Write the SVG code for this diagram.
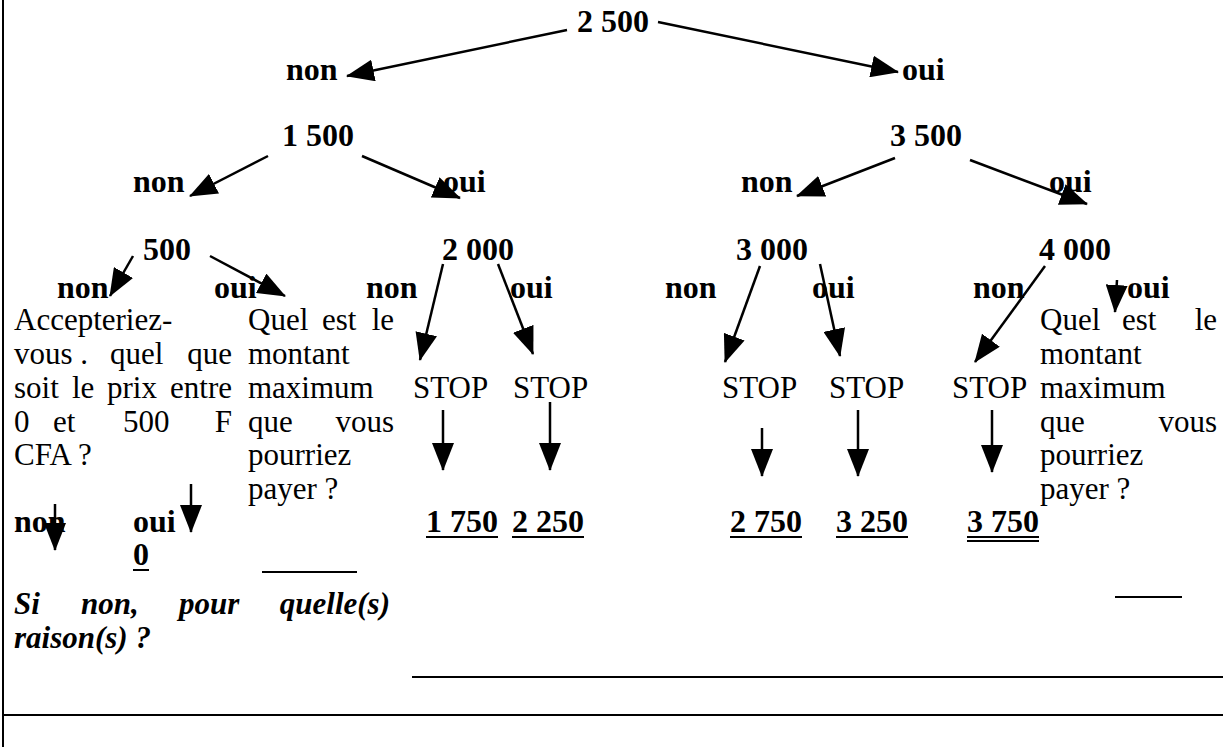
<svg xmlns="http://www.w3.org/2000/svg" width="1223" height="747" viewBox="0 0 1223 747">
<defs>
<marker id="ah" viewBox="0 0 28 22" refX="27" refY="11" markerWidth="28" markerHeight="22" markerUnits="userSpaceOnUse" orient="auto">
<path d="M0,0 L28,11 L0,22 z" fill="#000"/>
</marker>
</defs>
<style>
.b{font-family:"Liberation Serif","Times New Roman",serif;font-weight:bold;font-size:32px;fill:#000}
.r{font-family:"Liberation Serif","Times New Roman",serif;font-size:31px;fill:#000}
.bi{font-family:"Liberation Serif","Times New Roman",serif;font-weight:bold;font-style:italic;font-size:31px;fill:#000}
.e{text-anchor:end}
.a{stroke:#000;stroke-width:2.5;fill:none;marker-end:url(#ah)}
.ln{stroke:#000;stroke-width:2;fill:none}
</style>
<rect width="1223" height="747" fill="#fff"/>
<g id="frame">
<line class="ln" x1="3" y1="0" x2="3" y2="747"/>
<line class="ln" x1="3" y1="715" x2="1223" y2="715"/>
<line class="ln" x1="412" y1="677" x2="1223" y2="677"/>
<line class="ln" x1="262" y1="572" x2="357" y2="572"/>
<line class="ln" x1="1115" y1="597" x2="1182" y2="597"/>
</g>
<g id="connectors">
<line class="a" x1="567" y1="30" x2="347" y2="76"/>
<line class="a" x1="658" y1="22" x2="898" y2="72"/>
<line class="a" x1="268" y1="156" x2="190" y2="196"/>
<line class="a" x1="362" y1="156" x2="460" y2="198"/>
<line class="a" x1="895" y1="158" x2="797" y2="196"/>
<line class="a" x1="970" y1="160" x2="1087" y2="204"/>
<line class="a" x1="133" y1="256" x2="110" y2="296"/>
<line class="a" x1="210" y1="256" x2="285" y2="296"/>
<line class="a" x1="443" y1="264" x2="420" y2="360"/>
<line class="a" x1="498" y1="264" x2="533" y2="354"/>
<line class="a" x1="760" y1="266" x2="725" y2="362"/>
<line class="a" x1="820" y1="264" x2="840" y2="356"/>
<line class="a" x1="1045" y1="266" x2="975" y2="362"/>
<line class="a" x1="1117" y1="280" x2="1115" y2="312"/>
<line class="a" x1="443" y1="410" x2="443" y2="470"/>
<line class="a" x1="550" y1="402" x2="550" y2="470"/>
<line class="a" x1="762" y1="428" x2="762" y2="476"/>
<line class="a" x1="858" y1="410" x2="858" y2="476"/>
<line class="a" x1="992" y1="410" x2="992" y2="472"/>
<line class="a" x1="55" y1="504" x2="55" y2="550"/>
<line class="a" x1="191" y1="484" x2="191" y2="532"/>
</g>
<g id="n2500"><text class="b" x="577" y="32">2 500</text></g>
<g id="l-non1"><text class="b" x="286" y="80">non</text></g>
<g id="l-oui1"><text class="b" x="902" y="80">oui</text></g>
<g id="n1500"><text class="b" x="282" y="146">1 500</text></g>
<g id="n3500"><text class="b" x="890" y="146">3 500</text></g>
<g id="l-non2a"><text class="b" x="133" y="192">non</text></g>
<g id="l-oui2a"><text class="b" x="443" y="192">oui</text></g>
<g id="l-non2b"><text class="b" x="741" y="192">non</text></g>
<g id="l-oui2b"><text class="b" x="1049" y="192">oui</text></g>
<g id="n500"><text class="b" x="143" y="260">500</text></g>
<g id="n2000"><text class="b" x="442" y="260">2 000</text></g>
<g id="n3000"><text class="b" x="736" y="260">3 000</text></g>
<g id="n4000"><text class="b" x="1039" y="260">4 000</text></g>
<g id="row3labels">
<text class="b" x="57" y="298">non</text>
<text class="b" x="214" y="298">oui</text>
<text class="b" x="366" y="298">non</text>
<text class="b" x="510" y="298">oui</text>
<text class="b" x="665" y="298">non</text>
<text class="b" x="812" y="298">oui</text>
<text class="b" x="973" y="298">non</text>
<text class="b" x="1127" y="298">oui</text>
</g>
<g id="q-accept">
<text class="r" x="14" y="330">Accepteriez-</text>
<text class="r" x="14" y="364">vous .</text>
<text class="r" x="110" y="364">quel</text>
<text class="r e" x="232" y="364">que</text>
<text class="r" x="14" y="398">soit</text>
<text class="r" x="72" y="398">le</text>
<text class="r" x="107" y="398">prix</text>
<text class="r e" x="232" y="398">entre</text>
<text class="r" x="14" y="432">0</text>
<text class="r" x="53" y="432">et</text>
<text class="r" x="123" y="432">500</text>
<text class="r e" x="232" y="432">F</text>
<text class="r" x="14" y="465">CFA ?</text>
</g>
<g id="q-max-left">
<text class="r" x="248" y="330">Quel</text>
<text class="r" x="322" y="330">est</text>
<text class="r e" x="394" y="330">le</text>
<text class="r" x="248" y="364">montant</text>
<text class="r" x="248" y="398">maximum</text>
<text class="r" x="248" y="432">que</text>
<text class="r e" x="394" y="432">vous</text>
<text class="r" x="248" y="465">pourriez</text>
<text class="r" x="248" y="499">payer ?</text>
</g>
<g id="stop1"><text class="r" x="413" y="398">STOP</text></g>
<g id="stop2"><text class="r" x="513" y="398">STOP</text></g>
<g id="stop3"><text class="r" x="722" y="398">STOP</text></g>
<g id="stop4"><text class="r" x="829" y="398">STOP</text></g>
<g id="stop5"><text class="r" x="952" y="398">STOP</text></g>
<g id="q-max-right">
<text class="r" x="1040" y="330">Quel</text>
<text class="r" x="1122" y="330">est</text>
<text class="r e" x="1217" y="330">le</text>
<text class="r" x="1040" y="364">montant</text>
<text class="r" x="1040" y="398">maximum</text>
<text class="r" x="1040" y="432">que</text>
<text class="r e" x="1217" y="432">vous</text>
<text class="r" x="1040" y="465">pourriez</text>
<text class="r" x="1040" y="499">payer ?</text>
</g>
<g id="row-bottom">
<text class="b" x="14" y="532">non</text>
<text class="b" x="133" y="532">oui</text>
<text class="b" x="133" y="565">0</text>
<line class="ln" x1="133" y1="570" x2="149" y2="570"/>
</g>
<g id="v1750"><text class="b" x="426" y="532">1 750</text><line class="ln" x1="426" y1="537" x2="498" y2="537"/></g>
<g id="v2250"><text class="b" x="512" y="532">2 250</text><line class="ln" x1="512" y1="537" x2="584" y2="537"/></g>
<g id="v2750"><text class="b" x="730" y="532">2 750</text><line class="ln" x1="730" y1="537" x2="802" y2="537"/></g>
<g id="v3250"><text class="b" x="836" y="532">3 250</text><line class="ln" x1="836" y1="537" x2="908" y2="537"/></g>
<g id="v3750"><text class="b" x="967" y="532">3 750</text><line class="ln" x1="967" y1="537" x2="1039" y2="537"/><line class="ln" x1="967" y1="541" x2="1039" y2="541"/></g>
<g id="q-raison">
<text class="bi" x="14" y="614">Si</text>
<text class="bi" x="81" y="614">non,</text>
<text class="bi" x="179" y="614">pour</text>
<text class="bi e" x="390" y="614">quelle(s)</text>
<text class="bi" x="14" y="648">raison(s) ?</text>
</g>
</svg>
